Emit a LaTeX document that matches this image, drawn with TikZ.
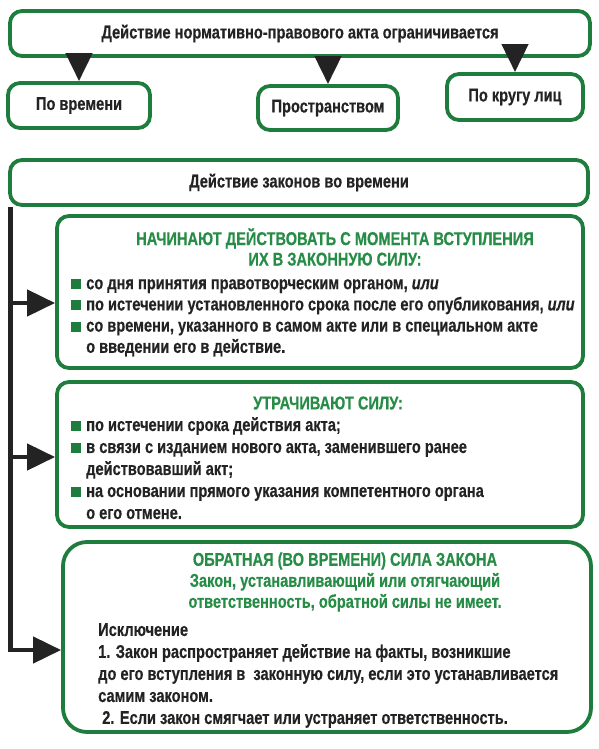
\documentclass[tikz,border=0pt]{standalone}
\usepackage{fontspec}
\setmainfont[FakeStretch=0.79,BoldFeatures={FakeBold=0.4},BoldItalicFeatures={FakeBold=0.4}]{Liberation Sans}
\usetikzlibrary{arrows.meta,calc}
\definecolor{gr}{RGB}{30,125,60}
\definecolor{ttlgr}{RGB}{38,140,70}
\definecolor{ink}{RGB}{35,35,35}
\newcommand\bul{\textcolor{gr}{\rule{10pt}{10pt}}\hspace{5pt}}
\newcommand\nob{\hspace{15pt}}
\begin{document}
\begin{tikzpicture}[x=1pt,y=-1pt,
 box/.style={draw=gr,line width=3.8pt,rounded corners=12pt,fill=white,font=\bfseries\fontsize{18.5}{22}\selectfont,text=ink,inner sep=0},
 conn/.style={draw=ink,line width=4.5pt},
 arr/.style={conn,-{Triangle[length=28pt,width=26pt]}},
 txt/.style={font=\bfseries\fontsize{18.5}{22}\selectfont,text=ink,align=left,inner sep=0,anchor=north west},
 ttl/.style={font=\bfseries\fontsize{18.5}{20.5}\selectfont,text=ttlgr,align=center,inner sep=0}]
\useasboundingbox (0,0) rectangle (599,749);
\fill[white] (0,0) rectangle (599,749);

\node[box,minimum width=580pt,minimum height=45pt] (top) at (300,33.5) {Действие нормативно-правового акта ограничивается};
\node[box,minimum width=142pt,minimum height=45pt] (t1) at (79,105.5) {По времени};
\node[box,minimum width=140pt,minimum height=44pt] (t2) at (328,108) {Пространством};
\node[box,minimum width=136pt,minimum height=46pt] (t3) at (515,97) {По кругу лиц};

\draw[arr] (top.south -| t1.north) -- (t1.north);
\draw[arr] (top.south -| t2.north) -- (t2.north);
\draw[arr] (top.south -| t3.north) -- (t3.north);

\node[box,minimum width=578pt,minimum height=45pt] (law) at (299,182.5) {Действие законов во времени};
\node[box,minimum width=526pt,minimum height=152pt] (A) at (320,292) {};
\node[box,minimum width=526pt,minimum height=145pt] (B) at (320,454.5) {};
\node[box,rounded corners=24pt,minimum width=528pt,minimum height=190pt] (C) at (327,637) {};

\coordinate (spine) at ([xshift=2.5pt]law.south west);
\coordinate (Ain) at ([yshift=-11pt]A.west);
\coordinate (Bin) at ([yshift=-2.5pt]B.west);
\coordinate (Cin) at ([yshift=-13pt]C.west);
\draw[arr] (spine) |- (Cin);
\draw[arr] (spine |- Ain) -- (Ain);
\draw[arr] (spine |- Bin) -- (Bin);

\node[ttl] (Atitle) at (335,247) {НАЧИНАЮТ ДЕЙСТВОВАТЬ С МОМЕНТА ВСТУПЛЕНИЯ\\ИХ В ЗАКОННУЮ СИЛУ:};
\node[txt,font=\bfseries\fontsize{18.5}{21.2}\selectfont] (Alist) at (71,279) {\bul со дня принятия правотворческим органом, \textit{или}\\
\bul по истечении установленного срока после его опубликования, \textit{или}\\
\bul со времени, указанного в самом акте или в специальном акте\\
\nob о введении его в действие.};

\node[ttl] (Btitle) at (328,403) {УТРАЧИВАЮТ СИЛУ:};
\node[txt] (Blist) at (71,417) {\bul по истечении срока действия акта;\\
\bul в связи с изданием нового акта, заменившего ранее\\
\nob действовавший акт;\\
\bul на основании прямого указания компетентного органа\\
\nob о его отмене.};

\node[ttl,font=\bfseries\fontsize{18.5}{21}\selectfont] (Ctitle) at (345,582) {ОБРАТНАЯ (ВО ВРЕМЕНИ) СИЛА ЗАКОНА\\Закон, устанавливающий или отягчающий\\ответственность, обратной силы не имеет.};
\node[txt] (Clist) at (98,623) {Исключение\\
1. Закон распространяет действие на факты, возникшие\\
до его вступления в\ \ законную силу, если это устанавливается\\
самим законом.\\
\ 2. Если закон смягчает или устраняет ответственность.};
\end{tikzpicture}
\end{document}
